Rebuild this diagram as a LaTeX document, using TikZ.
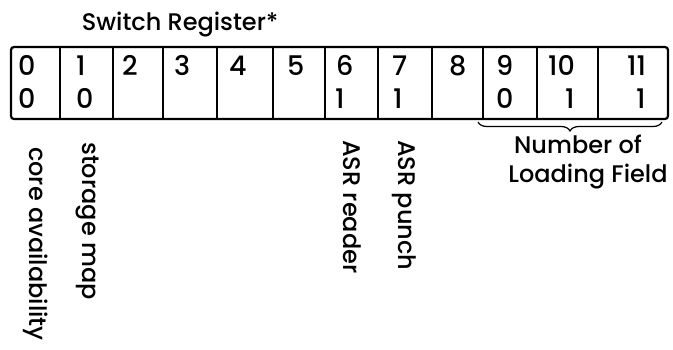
\documentclass[tikz,border=0pt]{standalone}
\usepackage{fontspec}
\setmainfont{Poppins Medium}
\usetikzlibrary{decorations.pathreplacing}

\begin{document}
\begin{tikzpicture}[
  x=1pt, y=-1pt,
  every node/.style={font=\fontsize{24}{28}\selectfont, inner sep=0pt},
  frame/.style={line width=2.2pt, rounded corners=3pt},
  divider/.style={line width=1.5pt},
  bit/.style={anchor=base west, font=\fontsize{27}{30}\selectfont},
  sidelabel/.style={rotate=-90, anchor=west},
  fieldbrace/.style={decorate, decoration={brace, mirror, amplitude=9pt}, line width=1.2pt}
]
\useasboundingbox (0,0) rectangle (673,349);
% register outline and cell dividers
\draw[frame] (11,47) rectangle (668,119);
\foreach \xd in {60,113,163,217,273,325,378,432,483,537,598}
  \draw[divider] (\xd,47) -- (\xd,119);
\node[anchor=base] (title) at (180,30) {Switch Register*};
% bit numbers
\foreach \xb/\lab [count=\i from 0] in {18/0,76/1,122/2,174/3,229/4,287/5,336/6,392/7,449/8,496/9,548/10,627/11}
  \node[bit] (b\i) at (\xb,75) {\lab};
% switch values
\node[bit] (v0) at (18,108) {0};
\node[bit] (v1) at (76,108) {0};
\node[bit] (v6) at (335,108) {1};
\node[bit] (v7) at (393,108) {1};
\node[bit] (v9) at (496,108) {0};
\node[bit] (v10) at (565,108) {1};
\node[bit] (v11) at (636,108) {1};
% bit meanings
\node[sidelabel] (core) at (36,147) {core availability};
\node[sidelabel] (stor) at (87,142) {storage map};
\node[sidelabel] (rdr) at (352,140) {ASR reader};
\node[sidelabel] (pun) at (404,140) {ASR punch};
\coordinate (bl) at (478,122);
\coordinate (br) at (662,122);
\draw[fieldbrace] (bl) -- (br);
\node[anchor=base] (num) at (578,153) {Number of};
\node[anchor=base] (load) at (588,182) {Loading Field};
\end{tikzpicture}
\end{document}
